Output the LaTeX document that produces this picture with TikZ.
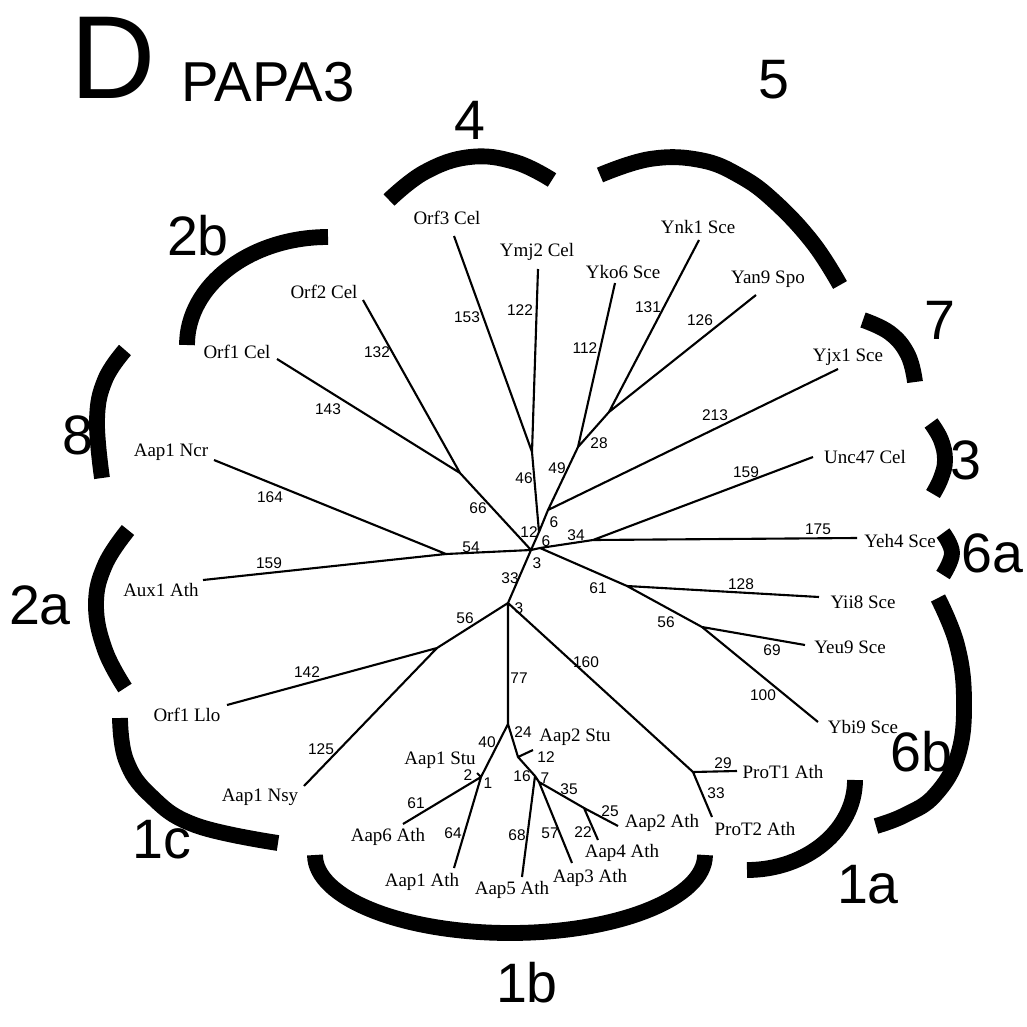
\documentclass[tikz,border=0pt]{standalone}
\usepackage{fontspec}
\setmainfont{Liberation Serif}
\newfontfamily\hel{Liberation Sans}
\begin{document}
\begin{tikzpicture}[x=0.01cm,y=-0.01cm,
  br/.style={line width=0.6pt},
  grouparc/.style={line width=4.5pt,line cap=butt},
  leaf/.style={font=\fontsize{5.4pt}{6pt}\selectfont, inner sep=0},
  num/.style={font=\hel\fontsize{4.4pt}{5pt}\selectfont, inner sep=0},
  grp/.style={font=\hel\fontsize{15.8pt}{17pt}\selectfont, inner sep=0}]
\useasboundingbox (0,0) rectangle (1027,1027);
% title
\node[inner sep=0,font=\hel\fontsize{33.6pt}{36pt}\selectfont] (tD) at (113,58) {D};
\node[inner sep=0,font=\hel\fontsize{16pt}{18pt}\selectfont] (tP) at (268,82) {PAPA3};
% internal nodes
\coordinate (c0) at (531,550);
\coordinate (h) at (540,548);
\coordinate (a) at (539,532);
\coordinate (b) at (532,452);
\coordinate (d) at (548,510);
\coordinate (e) at (578,447);
\coordinate (f) at (609,412);
\coordinate (n34) at (593,540);
\coordinate (n61) at (627,586);
\coordinate (n56r) at (702,627);
\coordinate (n66) at (460,473);
\coordinate (n54) at (446,554);
\coordinate (n3) at (508,603);
\coordinate (n56l) at (437,648);
\coordinate (n24) at (508,724);
\coordinate (pt) at (693,772);
\coordinate (s1) at (481,777);
\coordinate (n12) at (518,757);
\coordinate (n7) at (535,776);
\coordinate (n7b) at (539,782);
\coordinate (n35) at (584,808);
% leaf ends
\coordinate (orf3e) at (454,236);
\coordinate (ymj2e) at (538,269);
\coordinate (yko6e) at (615,283);
\coordinate (ynk1e) at (699,240);
\coordinate (yan9e) at (756,295);
\coordinate (yjx1e) at (838,369);
\coordinate (unc47e) at (813,457);
\coordinate (yeh4e) at (857,538);
\coordinate (yii8e) at (819,597);
\coordinate (yeu9e) at (805,645);
\coordinate (ybi9e) at (818,722);
\coordinate (prot1e) at (737,771);
\coordinate (prot2e) at (712,817);
\coordinate (aap2athe) at (618,826);
\coordinate (aap4e) at (598,840);
\coordinate (aap3e) at (572,863);
\coordinate (aap5e) at (522,877);
\coordinate (aap1athe) at (454,868);
\coordinate (aap6e) at (403,824);
\coordinate (aap2stue) at (533,750);
\coordinate (aap1stue) at (477,773);
\coordinate (nsye) at (304,786);
\coordinate (lloe) at (227,705);
\coordinate (aux1e) at (203,580);
\coordinate (ncre) at (214,460);
\coordinate (orf1cele) at (277,359);
\coordinate (orf2e) at (363,300);
% branches
\draw[br] (c0)--(h) (c0)--(a) (a)--(b) (a)--(d) (b)--(orf3e) (b)--(ymj2e)
  (d)--(yjx1e) (d)--(e) (e)--(yko6e) (e)--(f) (f)--(ynk1e) (f)--(yan9e)
  (h)--(n34) (n34)--(unc47e) (n34)--(yeh4e) (h)--(n61) (n61)--(yii8e)
  (n61)--(n56r) (n56r)--(yeu9e) (n56r)--(ybi9e)
  (c0)--(n66) (n66)--(orf1cele) (n66)--(orf2e)
  (c0)--(n54) (n54)--(ncre) (n54)--(aux1e)
  (c0)--(n3) (n3)--(n56l) (n56l)--(lloe) (n56l)--(nsye)
  (n3)--(n24) (n3)--(pt) (pt)--(prot1e) (pt)--(prot2e)
  (n24)--(s1) (s1)--(aap1athe) (s1)--(aap6e) (s1)--(aap1stue)
  (n24)--(n12) (n12)--(aap2stue) (n12)--(n7) (n7)--(aap5e) (n7)--(n7b)
  (n7b)--(aap3e) (n7b)--(n35) (n35)--(aap2athe) (n35)--(aap4e);
% leaf labels
\node[leaf] (lOrf3) at (447,218) {Orf3 Cel};
\node[leaf] (lYmj2) at (537,252) {Ymj2 Cel};
\node[leaf] (lYko6) at (623,272) {Yko6 Sce};
\node[leaf] (lYnk1) at (698,227) {Ynk1 Sce};
\node[leaf] (lYan9) at (768,279) {Yan9 Spo};
\node[leaf] (lYjx1) at (848,357) {Yjx1 Sce};
\node[leaf] (lUnc47) at (865,457) {Unc47 Cel};
\node[leaf] (lYeh4) at (900,541) {Yeh4 Sce};
\node[leaf] (lYii8) at (863,602) {Yii8 Sce};
\node[leaf] (lYeu9) at (850,647) {Yeu9 Sce};
\node[leaf] (lYbi9) at (863,727) {Ybi9 Sce};
\node[leaf] (lProT1) at (783,772) {ProT1 Ath};
\node[leaf] (lProT2) at (755,829) {ProT2 Ath};
\node[leaf] (lAap2Ath) at (662,823) {Aap2 Ath};
\node[leaf] (lAap4) at (622,853) {Aap4 Ath};
\node[leaf] (lAap3) at (590,878) {Aap3 Ath};
\node[leaf] (lAap5) at (512,890) {Aap5 Ath};
\node[leaf] (lAap1Ath) at (422,882) {Aap1 Ath};
\node[leaf] (lAap6) at (388,837) {Aap6 Ath};
\node[leaf] (lAap1Stu) at (440,760) {Aap1 Stu};
\node[leaf] (lAap2Stu) at (575,737) {Aap2 Stu};
\node[leaf] (lNsy) at (260,797) {Aap1 Nsy};
\node[leaf] (lLlo) at (187,715) {Orf1 Llo};
\node[leaf] (lAux1) at (161,590) {Aux1 Ath};
\node[leaf] (lNcr) at (171,452) {Aap1 Ncr};
\node[leaf] (lOrf1) at (237,352) {Orf1 Cel};
\node[leaf] (lOrf2) at (324,292) {Orf2 Cel};
% branch length labels
\node[num] (k153) at (467,317) {153};
\node[num] (k122) at (520,310) {122};
\node[num] (k112) at (585,348) {112};
\node[num] (k131) at (648,307) {131};
\node[num] (k126) at (700,320) {126};
\node[num] (k213) at (715,415) {213};
\node[num] (k159a) at (746,472) {159};
\node[num] (k28) at (599,443) {28};
\node[num] (k49) at (557,468) {49};
\node[num] (k46) at (524,478) {46};
\node[num] (k66) at (478,508) {66};
\node[num] (k12a) at (529,532) {12};
\node[num] (k6a) at (554,522) {6};
\node[num] (k6b) at (546,541) {6};
\node[num] (k34) at (576,535) {34};
\node[num] (k54) at (471,547) {54};
\node[num] (k3a) at (537,563) {3};
\node[num] (k33a) at (510,578) {33};
\node[num] (k3b) at (519,608) {3};
\node[num] (k56a) at (465,618) {56};
\node[num] (k77) at (519,678) {77};
\node[num] (k160) at (586,662) {160};
\node[num] (k61a) at (598,588) {61};
\node[num] (k128) at (741,584) {128};
\node[num] (k56b) at (666,622) {56};
\node[num] (k69) at (772,650) {69};
\node[num] (k100) at (763,695) {100};
\node[num] (k175) at (818,529) {175};
\node[num] (k29) at (723,763) {29};
\node[num] (k33b) at (716,793) {33};
\node[num] (k142) at (307,672) {142};
\node[num] (k125) at (321,749) {125};
\node[num] (k164) at (270,497) {164};
\node[num] (k159b) at (269,563) {159};
\node[num] (k143) at (328,409) {143};
\node[num] (k132) at (377,352) {132};
\node[num] (k40) at (487,742) {40};
\node[num] (k24) at (523,732) {24};
\node[num] (k12b) at (546,757) {12};
\node[num] (k2) at (468,775) {2};
\node[num] (k1) at (488,783) {1};
\node[num] (k16) at (522,776) {16};
\node[num] (k7) at (545,778) {7};
\node[num] (k35) at (569,789) {35};
\node[num] (k25) at (610,811) {25};
\node[num] (k22) at (583,832) {22};
\node[num] (k57) at (550,833) {57};
\node[num] (k68) at (517,835) {68};
\node[num] (k61b) at (416,803) {61};
\node[num] (k64) at (453,833) {64};
% group arcs
\draw[grouparc] plot[smooth,tension=0.7] coordinates {(389,200) (425,172) (470,157) (515,162) (552,180)};
\draw[grouparc] plot[smooth,tension=0.7] coordinates {(600,175) (650,159) (700,160) (740,176) (775,202) (813,243) (840,285)};
\draw[grouparc] plot[smooth,tension=0.7] coordinates {(863,320) (890,333) (908,355) (915,382)};
\draw[grouparc] plot[smooth,tension=0.7] coordinates {(931,423) (941,440) (945,460) (941,478) (933,494)};
\draw[grouparc] plot[smooth,tension=0.7] coordinates {(943,533) (952,553) (943,575)};
\draw[grouparc] plot[smooth,tension=0.7] coordinates {(938,598) (957,645) (964,700) (958,755) (935,795) (905,815) (876,826)};
\draw[grouparc] (855,780) arc[start angle=0,end angle=90,x radius=108,y radius=90];
\draw[grouparc] (705,855) arc[start angle=0,end angle=180,x radius=195,y radius=78];
\draw[grouparc] plot[smooth,tension=0.7] coordinates {(120,718) (126,760) (150,795) (195,825) (278,843)};
\draw[grouparc] plot[smooth,tension=0.7] coordinates {(128,530) (105,565) (96,605) (105,650) (125,688)};
\draw[grouparc] plot[smooth,tension=0.7] coordinates {(125,350) (105,380) (97,420) (102,478)};
\draw[grouparc] (187,345) arc[start angle=180,end angle=270,x radius=141,y radius=108];
% group labels
\node[grp] (g4) at (470,120) {4};
\node[grp] (g5) at (774,80) {5};
\node[grp] (g2b) at (198,236) {2b};
\node[grp] (g7) at (940,320) {7};
\node[grp] (g3) at (966,460) {3};
\node[grp] (g6a) at (992,553) {6a};
\node[grp] (g6b) at (921,752) {6b};
\node[grp] (g1a) at (868,885) {1a};
\node[grp] (g1b) at (527,983) {1b};
\node[grp] (g1c) at (162,840) {1c};
\node[grp] (g2a) at (40,605) {2a};
\node[grp] (g8) at (78,435) {8};
\end{tikzpicture}
\end{document}
